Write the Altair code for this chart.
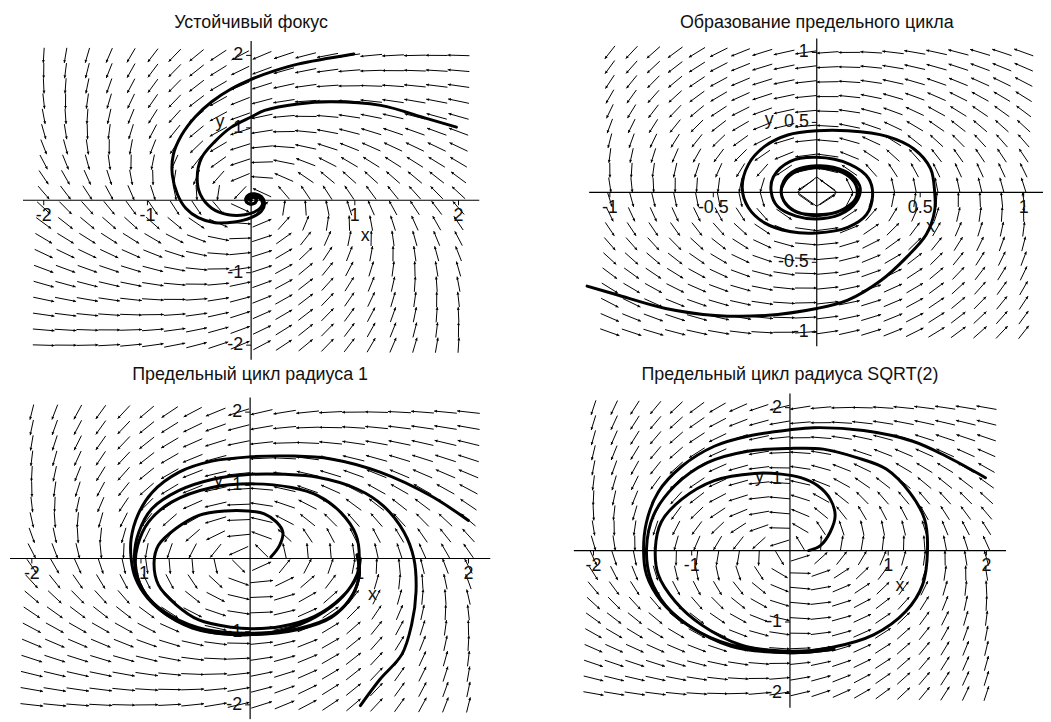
import altair as alt
import numpy as np
import pandas as pd

# ---------------- chart content ----------------
TITLES = ["Устойчивый фокус", "Образование предельного цикла",
          "Предельный цикл радиуса 1", "Предельный цикл радиуса SQRT(2)"]
# parameter mu of the plotted system  x' = -y*T + c*x*(mu - r^2),  y' = x*T + c*y*(mu - r^2)
MU = [-1.0, 0.1, 1.0, 2.0]
C_DAMP = 0.2
B_ROT = 0.12
FIELD_HALF = [2.0, 1.0, 2.0, 2.0]      # direction-field grid spans [-h, h]
FIELD_N = 20                           # arrows per row / column
AXIS_HALF = [2.2, 1.1, 2.2, 2.2]
TICKS = [[-2, -1, 1, 2], [-1, -0.5, 0.5, 1], [-2, -1, 1, 2], [-2, -1, 1, 2]]
TICK_LABELS = [["-2", "-1", "1", "2"], ["-1", "-0.5", "0.5", "1"],
               ["-2", "-1", "1", "2"], ["-2", "-1", "1", "2"]]
XLABEL_POS = [(1.1, -0.5), (0.55, -0.25), (1.12, -0.5), (1.12, -0.49)]
YLABEL_POS = [(-0.3, 1.08), (-0.23, 0.52), (-0.29, 1.06), (-0.31, 1.03)]

# trajectories: per panel, list of (xs, ys)
TRAJ = [
    [
        ([0.99, 0.45, 0.23, 0.0, -0.19, -0.38, -0.54, -0.67, -0.75, -0.76, -0.71, -0.63, -0.51, -0.35, -0.16,
          0.0, 0.10, 0.13, 0.10, 0.035, -0.02, -0.05, -0.04, 0.0, 0.04, 0.05, 0.03, 0.0, -0.01, 0.0],
         [2.02, 1.88, 1.79, 1.67, 1.54, 1.36, 1.15, 0.90, 0.63, 0.35, 0.08, -0.11, -0.24, -0.31, -0.30,
          -0.24, -0.15, -0.04, 0.05, 0.09, 0.08, 0.03, -0.03, -0.05, -0.03, 0.01, 0.04, 0.03, 0.0, 0.0]),
        ([1.98, 1.69, 1.25, 0.77, 0.45, 0.13, 0.0, -0.19, -0.35, -0.48, -0.52, -0.49, -0.38, -0.22, -0.06,
          0.07, 0.11, 0.08, 0.02, -0.03, -0.05, -0.03, 0.02, 0.05, 0.04, 0.0, -0.02, 0.0],
         [1.01, 1.13, 1.31, 1.36, 1.33, 1.24, 1.15, 1.01, 0.81, 0.58, 0.31, 0.08, -0.11, -0.20, -0.20,
          -0.13, -0.04, 0.03, 0.06, 0.05, 0.0, -0.04, -0.05, -0.01, 0.03, 0.04, 0.01, 0.0]),
    ],
    [
        ([-1.11, -0.97, -0.73, -0.49, -0.25, 0.0, 0.15, 0.31, 0.43, 0.53, 0.57, 0.57, 0.55, 0.47, 0.34, 0.15,
          0.0, -0.14, -0.25, -0.33, -0.36, -0.33, -0.25, -0.13, 0.0, 0.15, 0.24, 0.27, 0.25, 0.16, 0.0, -0.13,
          -0.21, -0.22, -0.19, -0.10, 0.0, 0.11, 0.19, 0.21, 0.17, 0.08, 0.0, -0.10, -0.16, -0.17, -0.13,
          -0.05, 0.04, 0.13, 0.19, 0.19, 0.14, 0.05, -0.05, -0.13, -0.17, -0.16, -0.10, 0.0, 0.10, 0.18, 0.20],
         [-0.67, -0.73, -0.83, -0.88, -0.88, -0.83, -0.77, -0.63, -0.47, -0.30, -0.13, 0.0, 0.17, 0.31, 0.40,
          0.44, 0.44, 0.41, 0.33, 0.20, 0.03, -0.11, -0.22, -0.28, -0.29, -0.25, -0.16, -0.02, 0.10, 0.20,
          0.25, 0.22, 0.11, 0.0, -0.10, -0.17, -0.19, -0.16, -0.07, 0.03, 0.12, 0.18, 0.19, 0.16, 0.08,
          -0.02, -0.11, -0.16, -0.16, -0.12, -0.04, 0.05, 0.13, 0.17, 0.17, 0.12, 0.03, -0.06, -0.14, -0.16,
          -0.14, -0.07, 0.02]),
    ],
    [
        ([0.19, 0.27, 0.30, 0.24, 0.13, -0.02, -0.23, -0.47, -0.68, -0.84, -0.88, -0.84, -0.68, -0.47, -0.17,
          0.01, 0.28, 0.59, 0.83, 0.97, 1.0, 0.97, 0.83, 0.62, 0.38, 0.01, -0.35, -0.72, -0.93, -1.03, -1.05,
          -0.99, -0.81, -0.53, -0.17, 0.01, 0.30, 0.60, 0.85, 0.98, 1.01],
         [0.02, 0.18, 0.36, 0.50, 0.61, 0.65, 0.65, 0.59, 0.41, 0.18, -0.05, -0.36, -0.63, -0.84, -0.94,
          -0.96, -0.93, -0.79, -0.54, -0.27, 0.0, 0.32, 0.63, 0.86, 0.97, 1.02, 0.97, 0.77, 0.50, 0.18,
          -0.09, -0.41, -0.72, -0.95, -1.04, -1.04, -0.98, -0.80, -0.52, -0.22, 0.0]),
        ([2.0, 1.65, 1.19, 0.74, 0.38, 0.01, -0.35, -0.65, -0.90, -1.03, -1.09, -1.09, -1.05, -0.94, -0.72,
          -0.41, 0.01, 0.44, 0.74, 0.92, 1.0, 0.98],
         [0.52, 0.86, 1.18, 1.36, 1.40, 1.39, 1.33, 1.18, 0.90, 0.59, 0.27, 0.0, -0.27, -0.54, -0.81,
          -0.99, -1.04, -0.97, -0.81, -0.54, -0.23, 0.05]),
        ([1.01, 1.19, 1.39, 1.48, 1.52, 1.50, 1.41, 1.22, 0.98, 0.62, 0.32, 0.01, -0.35, -0.65, -0.90, -1.02,
          -1.06, -1.03, -0.93, -0.72, -0.41, 0.01, 0.44, 0.76, 0.94, 1.0, 0.98],
         [-2.01, -1.65, -1.31, -0.90, -0.45, 0.0, 0.36, 0.72, 0.95, 1.11, 1.15, 1.15, 1.08, 0.93, 0.68, 0.36,
          0.04, -0.27, -0.54, -0.79, -0.97, -1.02, -0.96, -0.78, -0.50, -0.20, 0.05]),
    ],
    [
        ([0.19, 0.31, 0.41, 0.46, 0.41, 0.28, 0.11, -0.09, -0.36, -0.77, -1.10, -1.31, -1.37, -1.34, -1.17,
          -0.90, -0.50, 0.0, 0.41, 0.85, 1.18, 1.35, 1.40, 1.37, 1.22, 0.98, 0.68, 0.34, 0.0, -0.43, -0.84,
          -1.17, -1.39, -1.46, -1.42, -1.27, -1.00, -0.60, 0.0, 0.40],
         [0.0, 0.07, 0.26, 0.49, 0.72, 0.91, 1.02, 1.07, 1.08, 0.98, 0.72, 0.40, 0.03, -0.34, -0.71, -1.04,
          -1.32, -1.41, -1.36, -1.18, -0.85, -0.48, 0.0, 0.44, 0.81, 1.14, 1.30, 1.42, 1.43, 1.39, 1.23,
          0.91, 0.49, 0.03, -0.39, -0.76, -1.08, -1.32, -1.43, -1.39]),
        ([1.99, 1.59, 1.25, 0.75, 0.24, 0.0, -0.43, -0.77, -1.10, -1.34, -1.46, -1.49, -1.46, -1.31, -1.04,
          -0.60, 0.0, 0.45],
         [1.02, 1.32, 1.53, 1.68, 1.72, 1.69, 1.60, 1.46, 1.18, 0.82, 0.40, 0.0, -0.34, -0.71, -1.04, -1.34,
          -1.43, -1.38]),
    ],
]
# thin closed polygon near the origin of panel 2
DIAMOND_X = [-0.094, 0.0, 0.097, 0.0, -0.094]
DIAMOND_Y = [0.0, 0.11, 0.0, -0.10, 0.0]

# ---------------- layout (pixels) ----------------
LAYOUT = [
    dict(o=(253, 199), u=104.5, v=73.0, view=(8, 8, 512, 354), title_base=25),
    dict(o=(823, 191), u=208.5, v=141.0, view=(520, 8, 531, 354), title_base=25),
    dict(o=(252, 560), u=110.0, v=73.75, view=(8, 362, 512, 360), title_base=380),
    dict(o=(796, 552), u=99.0, v=72.0, view=(520, 362, 531, 360), title_base=380),
]
FONT = "Liberation Sans"
FS = 18
TICK_PX = 5
ARROW_HALF = 0.5     # half arrow length, in grid steps
HEAD_BACK_PX = 2.0


def panel(k):
    L = LAYOUT[k]
    ox, oy = L["o"]
    u, v = L["u"], L["v"]
    vx, vy, vw, vh = L["view"]
    xs = alt.Scale(domain=[(vx - ox) / u, (vx + vw - ox) / u], nice=False, zero=False)
    ys = alt.Scale(domain=[(oy - vy - vh) / v, (oy - vy) / v], nice=False, zero=False)
    X = lambda f: alt.X(f, type="quantitative", scale=xs, axis=None)
    Y = lambda f: alt.Y(f, type="quantitative", scale=ys, axis=None)

    # direction field
    mu = MU[k]
    h = FIELD_HALF[k]
    g = np.linspace(-h, h, FIELD_N)
    step = g[1] - g[0]
    gx, gy = np.meshgrid(g, g)
    gx, gy = gx.ravel(), gy.ravel()
    r2 = gx ** 2 + gy ** 2
    T = 1 + B_ROT * r2
    P = -gy * T + C_DAMP * gx * (mu - r2)
    Q = gx * T + C_DAMP * gy * (mu - r2)
    n = np.hypot(P, Q)
    n[n == 0] = 1
    dx, dy = P / n * step * ARROW_HALF, Q / n * step * ARROW_HALF
    sx, sy = dx * u, -dy * v
    ang = (np.degrees(np.arctan2(sx, -sy)) + 360) % 360
    plen = np.hypot(sx, sy)
    back = HEAD_BACK_PX / np.where(plen == 0, 1, plen)
    field = pd.DataFrame(dict(x=gx - dx, y=gy - dy, x2=gx + dx, y2=gy + dy,
                              hx=gx + dx * (1 - back), hy=gy + dy * (1 - back), ang=ang))
    shafts = alt.Chart(field).mark_rule(color="#000", strokeWidth=1.0, clip=True).encode(
        x=X("x"), y=Y("y"), x2="x2", y2="y2")
    heads = alt.Chart(field).mark_point(shape="triangle", filled=True, size=9, color="#000",
                                        opacity=1, clip=True).encode(
        x=X("hx"), y=Y("hy"), angle=alt.Angle("ang:Q", scale=None))

    # axes
    A = AXIS_HALF[k]
    axes = pd.DataFrame(dict(x=[-A, 0], y=[0, -A], x2=[A, 0], y2=[0, A]))
    axis_lines = alt.Chart(axes).mark_rule(color="#000", strokeWidth=1.2, clip=True).encode(
        x=X("x"), y=Y("y"), x2="x2", y2="y2")
    t = TICKS[k]
    tl = TICK_LABELS[k]
    txl = TICK_PX / u
    tyl = TICK_PX / v
    tick_df = pd.DataFrame(dict(
        x=list(t) + [-txl] * len(t), x2=list(t) + [0] * len(t),
        y=[-tyl] * len(t) + list(t), y2=[0] * len(t) + list(t)))
    ticks = alt.Chart(tick_df).mark_rule(color="#000", strokeWidth=1, clip=True).encode(
        x=X("x"), y=Y("y"), x2="x2", y2="y2")
    xlab = pd.DataFrame(dict(x=t, y=[0] * len(t), t=tl))
    xlabels = alt.Chart(xlab).mark_text(font=FONT, fontSize=FS, color="#111", baseline="top",
                                        align="center", dy=7, clip=True).encode(
        x=X("x"), y=Y("y"), text="t:N")
    ylab = pd.DataFrame(dict(x=[0] * len(t), y=t, t=tl))
    ylabels = alt.Chart(ylab).mark_text(font=FONT, fontSize=FS, color="#111", baseline="middle",
                                        align="right", dx=-8, clip=True).encode(
        x=X("x"), y=Y("y"), text="t:N")
    names = pd.DataFrame(dict(x=[XLABEL_POS[k][0], YLABEL_POS[k][0]],
                              y=[XLABEL_POS[k][1], YLABEL_POS[k][1]], t=["x", "y"]))
    name_text = alt.Chart(names).mark_text(font=FONT, fontSize=FS, color="#111", baseline="middle",
                                           align="center", clip=True).encode(
        x=X("x"), y=Y("y"), text="t:N")

    # trajectories
    rows = []
    for j, (tx, ty) in enumerate(TRAJ[k]):
        for i, (a, b) in enumerate(zip(tx, ty)):
            rows.append(dict(x=a, y=b, tr=j, i=i))
    traj = alt.Chart(pd.DataFrame(rows)).mark_line(
        color="#000", strokeWidth=3, strokeCap="round", strokeJoin="round",
        interpolate="catmull-rom", clip=True).encode(
        x=X("x"), y=Y("y"), detail="tr:N", order="i:Q")

    layers = [shafts, heads, axis_lines, ticks, xlabels, ylabels, name_text, traj]
    if k == 1:
        dia = pd.DataFrame(dict(x=DIAMOND_X, y=DIAMOND_Y, i=range(len(DIAMOND_X))))
        layers.append(alt.Chart(dia).mark_line(color="#000", strokeWidth=1, clip=True).encode(
            x=X("x"), y=Y("y"), order="i:Q"))

    title_df = pd.DataFrame(dict(x=[0], y=[(oy - L["title_base"]) / v], t=[TITLES[k]]))
    title = alt.Chart(title_df).mark_text(font=FONT, fontSize=FS, color="#111", baseline="alphabetic",
                                          align="center", clip=True).encode(
        x=X("x"), y=Y("y"), text="t:N")
    layers.append(title)
    return alt.layer(*layers).properties(width=vw, height=vh)


chart = alt.concat(panel(0), panel(1), panel(2), panel(3), columns=2, spacing=0,
                   bounds="flush").properties(
    padding=0, background="white"
).configure_view(stroke=None).configure_concat(spacing=0)

chart.save("out.html", embed_options={"renderer": "svg", "actions": False})
